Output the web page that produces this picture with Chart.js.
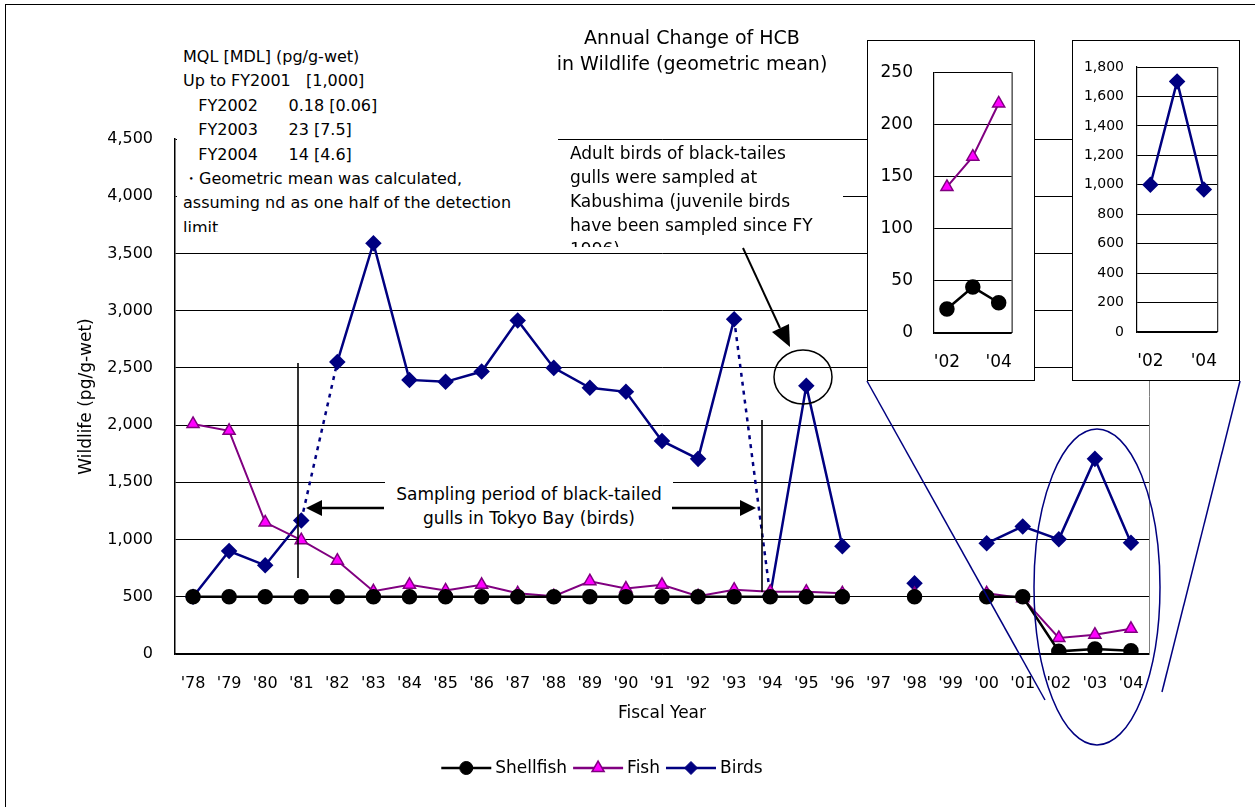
<!DOCTYPE html>
<html lang="en">
<head>
<meta charset="UTF-8">
<title>Annual Change of HCB in Wildlife</title>
<script src="https://cdn.jsdelivr.net/npm/chart.js@4.4.1/dist/chart.umd.min.js"></script>
<style>
    body {
        margin: 0;
        background: #fff;
        font-family: 'DejaVu Sans', sans-serif;
        color: #000;
    }
    .page {
        position: relative;
        width: 1255px;
        height: 807px;
        overflow: hidden;
    }
    .frame {
        position: absolute;
        left: 5px; top: 4px;
        width: 1260px; height: 810px;
        border: 1px solid #000;
    }
    #mainChart { position: absolute; left: 0; top: 0; }
    .note {
        position: absolute;
        background: #fff;
        font-size: 16px;
        line-height: 24.4px;
        white-space: pre;
        overflow: hidden;
    }
    .title {
        position: absolute;
        left: 510px; top: 24px;
        width: 364px;
        text-align: center;
        font-size: 19px;
        line-height: 26px;
    }
    .inset {
        position: absolute;
        top: 40px;
        width: 166px; height: 339px;
        border: 1px solid #000;
        background: #fff;
    }
    .inset canvas { display: block; }
    svg { position: absolute; left: 0; top: 0; }
</style>
</head>
<body>
<div class="page">
    <canvas id="mainChart" width="1255" height="807"></canvas>

    <svg width="1255" height="807">
        <!-- sampling period markers -->
        <line x1="298" y1="363" x2="298" y2="578" stroke="#000" stroke-width="1.6"/>
        <line x1="762" y1="420" x2="762" y2="592" stroke="#000" stroke-width="1.6"/>
        <!-- lines from the circled years up to the insets -->
        <line x1="867" y1="381" x2="1045" y2="700" stroke="#000080" stroke-width="1.5"/>
        <line x1="1240" y1="381" x2="1162" y2="692" stroke="#000080" stroke-width="1.5"/>
        <ellipse cx="1097" cy="587" rx="63" ry="158" fill="none" stroke="#000080" stroke-width="1.5"/>
        <ellipse cx="803" cy="377" rx="29" ry="27" fill="none" stroke="#000" stroke-width="1.5"/>
        <!-- arrow to 1995 -->
        <line x1="743" y1="248" x2="780" y2="328" stroke="#000" stroke-width="2"/>
        <polygon points="790,347 772,332 789,324" fill="#000"/>
    </svg>

    <div class="note" style="left:385px; top:482px; width:288px; height:52px; text-align:center; font-size:17px; line-height:24px;">Sampling period of black-tailed
gulls in Tokyo Bay (birds)</div>
    <svg width="1255" height="807">
        <line x1="384" y1="508" x2="318" y2="508" stroke="#000" stroke-width="2.5"/>
        <polygon points="306,508 322,500 322,516" fill="#000"/>
        <line x1="672" y1="508" x2="742" y2="508" stroke="#000" stroke-width="2.5"/>
        <polygon points="756,508 740,500 740,516" fill="#000"/>
    </svg>

    <div class="note" style="left:177px; top:45px; width:375px; height:187px; padding-left:6px;">MQL [MDL] (pg/g-wet)
Up to FY2001   [1,000]
   FY2002      0.18 [0.06]
   FY2003      23 [7.5]
   FY2004      14 [4.6]
・Geometric mean was calculated,
assuming nd as one half of the detection
limit</div>

    <div class="note" style="left:557px; top:141px; width:273px; height:106px; padding-left:13px; font-size:17px; line-height:24px;">Adult birds of black-tailes
gulls were sampled at
Kabushima (juvenile birds
have been sampled since FY
1996)</div>

    <div class="title">Annual Change of HCB<br>in Wildlife (geometric mean)</div>

    <div class="inset" style="left:867px;"><canvas id="insetLow" width="166" height="339"></canvas></div>
    <div class="inset" style="left:1072px;"><canvas id="insetBirds" width="166" height="339"></canvas></div>

    <div class="frame"></div>
</div>

<script>
    const years = ["'78", "'79", "'80", "'81", "'82", "'83", "'84", "'85", "'86", "'87",
                   "'88", "'89", "'90", "'91", "'92", "'93", "'94", "'95", "'96", "'97",
                   "'98", "'99", "'00", "'01", "'02", "'03", "'04"];
    const shellfish = [500, 500, 500, 500, 500, 500, 500, 500, 500, 500,
                       500, 500, 500, 500, 500, 500, 500, 500, 500, null,
                       500, null, 500, 500, 23, 44, 29];
    const fish = [2010, 1950, 1150, 995, 815, 548, 605, 555, 605, 530,
                  505, 636, 572, 605, 505, 562, 545, 545, 530, null,
                  525, null, 530, 488, 140, 169, 220];
    const birds = [500, 900, 775, 1167, 2552, 3589, 2395, 2378, 2468, 2915,
                   2500, 2326, 2291, 1862, 1705, 2925, 512, 2343, 941, null,
                   618, null, 967, 1115, 1002, 1705, 972];
    // birds segments drawn dotted (change of sampling site)
    const dottedFrom = [3, 15];
    const mainTicks = [0, 500, 1000, 1500, 2000, 2500, 3000, 3500, 4000, 4500];

    const insetYears = ["'02", "'03", "'04"];
    const insetShellfish = [23, 44, 29];
    const insetFish = [140, 169, 220];
    const insetBirds = [1000, 1702, 968];

    const FONT = "'DejaVu Sans', sans-serif";
    const NAVY = '#000080';
    const PURPLE = '#800080';
    const MAGENTA = '#ff00ff';

    const shellStyle = { borderColor: '#000', backgroundColor: '#000', pointStyle: 'circle', pointRadius: 6.5, pointBorderColor: '#000', pointBackgroundColor: '#000' };
    const fishStyle = { borderColor: PURPLE, backgroundColor: MAGENTA, pointStyle: 'triangle', pointRadius: 7, pointBorderColor: PURPLE, pointBackgroundColor: MAGENTA, pointBorderWidth: 1.5 };
    const birdStyle = { borderColor: NAVY, backgroundColor: NAVY, pointStyle: 'rectRot', pointRadius: 6.5, pointBorderColor: NAVY, pointBackgroundColor: NAVY };

    // right side of the plot frame
    const frame = {
        id: 'frame',
        beforeDatasetsDraw(chart, args, opts) {
            const a = chart.chartArea, ctx = chart.ctx;
            ctx.save();
            ctx.strokeStyle = opts.color || '#000';
            ctx.lineWidth = 1;
            ctx.beginPath();
            ctx.moveTo(a.right + 0.5, a.top);
            ctx.lineTo(a.right + 0.5, a.bottom);
            ctx.stroke();
            ctx.restore();
        }
    };

    // excel style legend: line with marker, then label
    const lineLegend = {
        id: 'lineLegend',
        afterDraw(chart, args, opts) {
            const ctx = chart.ctx;
            ctx.save();
            ctx.font = '17px ' + FONT;
            ctx.textBaseline = 'middle';
            const lineLen = 50;
            const items = chart.data.datasets.map(ds => ({ ds, w: ctx.measureText(ds.label).width }));
            const total = items.reduce((s, it) => s + lineLen + 4 + it.w + 6, 0);
            let x = opts.centerX - total / 2;
            const y = opts.y;
            items.forEach(({ ds, w }) => {
                ctx.strokeStyle = ds.borderColor;
                ctx.lineWidth = 2.5;
                ctx.beginPath();
                ctx.moveTo(x, y);
                ctx.lineTo(x + lineLen, y);
                ctx.stroke();
                ctx.fillStyle = ds.pointBackgroundColor;
                ctx.strokeStyle = ds.pointBorderColor;
                ctx.lineWidth = ds.pointBorderWidth || 1;
                Chart.helpers.drawPoint(ctx, { pointStyle: ds.pointStyle, radius: ds.pointRadius, borderWidth: ds.pointBorderWidth || 1, rotation: 0 }, x + lineLen / 2, y);
                ctx.fillStyle = '#000';
                ctx.fillText(ds.label, x + lineLen + 4, y + 1);
                x += lineLen + 4 + w + 6;
            });
            ctx.restore();
        }
    };

    new Chart(document.getElementById('mainChart'), {
        type: 'line',
        data: {
            labels: years,
            datasets: [
                Object.assign({ label: 'Shellfish', data: shellfish, borderWidth: 2.5 }, shellStyle),
                Object.assign({ label: 'Fish', data: fish, borderWidth: 2 }, fishStyle),
                Object.assign({
                    label: 'Birds', data: birds, borderWidth: 2.5,
                    segment: {
                        borderDash: ctx => dottedFrom.includes(ctx.p0DataIndex) ? [4, 5] : undefined
                    }
                }, birdStyle)
            ]
        },
        options: {
            responsive: false,
            animation: false,
            spanGaps: false,
            layout: { padding: { left: 72, top: 139, right: 106, bottom: 79 } },
            plugins: {
                legend: { display: false },
                tooltip: { enabled: false },
                frame: { color: '#808080' },
                lineLegend: { centerX: 605, y: 768 }
            },
            scales: {
                x: {
                    offset: true,
                    grid: { display: false, drawTicks: false },
                    border: { color: '#000', width: 1.5 },
                    ticks: { color: '#000', font: { family: FONT, size: 16 }, padding: 20, autoSkip: false, maxRotation: 0 },
                    title: { display: true, text: 'Fiscal Year', color: '#000', font: { family: FONT, size: 17 } },
                    afterFit(scale) { scale.height = 74; }
                },
                y: {
                    min: 0,
                    max: 4500,
                    afterBuildTicks(scale) { scale.ticks = mainTicks.map(v => ({ value: v })); },
                    grid: { color: '#000', lineWidth: 1, drawTicks: false },
                    border: { color: '#000', width: 1.5 },
                    ticks: { color: '#000', font: { family: FONT, size: 16 }, padding: 22,
                             callback: v => v.toLocaleString('en-US') },
                    title: { display: true, text: 'Wildlife (pg/g-wet)', color: '#000', font: { family: FONT, size: 17 } },
                    afterFit(scale) { scale.width = 103; }
                }
            }
        },
        plugins: [frame, lineLegend]
    });

    function insetOptions(max, step, fontSize, pad, yWidth, tickPad) {
        return {
            responsive: false,
            animation: false,
            layout: { padding: pad },
            plugins: { legend: { display: false }, tooltip: { enabled: false }, frame: { color: '#000' } },
            scales: {
                x: {
                    offset: true,
                    grid: { display: false, drawTicks: false },
                    border: { color: '#000', width: 1.2 },
                    ticks: { color: '#000', font: { family: FONT, size: 17 }, padding: 19, autoSkip: false, maxRotation: 0,
                             callback: (v, i) => i === 1 ? '' : insetYears[i] },
                    afterFit(scale) { scale.height = 41; }
                },
                y: {
                    min: 0,
                    max: max,
                    ticks: { stepSize: step, color: '#000', font: { family: FONT, size: fontSize }, padding: tickPad,
                             callback: v => v.toLocaleString('en-US') },
                    grid: { color: '#000', drawTicks: false },
                    border: { color: '#000', width: 1.2 },
                    afterFit(scale) { scale.width = yWidth; }
                }
            }
        };
    }

    new Chart(document.getElementById('insetLow'), {
        type: 'line',
        data: {
            labels: insetYears,
            datasets: [
                Object.assign({ label: 'Shellfish', data: insetShellfish, borderWidth: 2.5 }, shellStyle),
                Object.assign({ label: 'Fish', data: insetFish, borderWidth: 2 }, fishStyle)
            ]
        },
        options: insetOptions(250, 50, 17, { left: 0, top: 29, right: 19, bottom: 6 }, 66, 21),
        plugins: [frame]
    });

    new Chart(document.getElementById('insetBirds'), {
        type: 'line',
        data: {
            labels: insetYears,
            datasets: [
                Object.assign({ label: 'Birds', data: insetBirds, borderWidth: 2.5 }, birdStyle)
            ]
        },
        options: insetOptions(1800, 200, 14, { left: 0, top: 26, right: 18, bottom: 7 }, 64, 13),
        plugins: [frame]
    });
</script>
</body>
</html>
